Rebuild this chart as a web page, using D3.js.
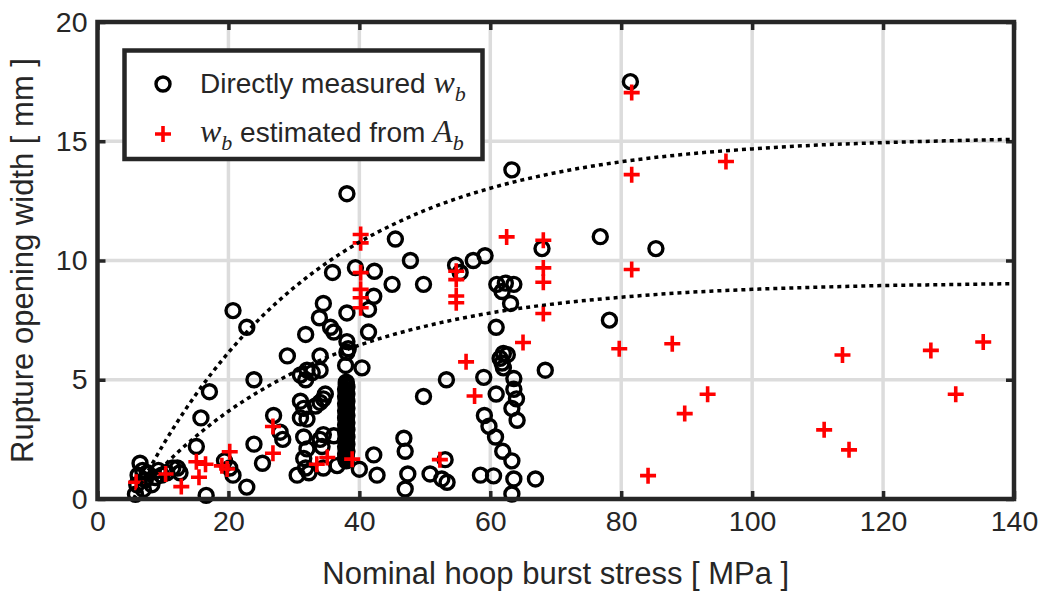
<!DOCTYPE html>
<html>
<head>
<meta charset="utf-8">
<script src="https://cdn.jsdelivr.net/npm/d3@7"></script>
<style>
  body { margin: 0; background: #fff; }
  text { font-family: "Liberation Sans", Arial, sans-serif; fill: #262626; }
</style>
</head>
<body>
<svg width="1045" height="593"></svg>
<script>
// tick values
const xTicks = [0, 20, 40, 60, 80, 100, 120, 140];
const yTicks = [0, 5, 10, 15, 20];

// directly measured w_b  [stress MPa, width mm]
const measuredPoints = [
  [5.8, 0.2], [6.0, 0.6], [6.2, 1.0], [6.5, 1.5], [6.9, 1.2], [7.3, 0.8], [7.6, 1.1], [8.3, 0.6],
  [8.8, 0.9], [9.3, 1.2], [9.8, 1.0], [10.6, 1.1], [11.5, 1.3], [12.2, 1.3], [12.6, 1.1], [7.0, 0.4],
  [15.1, 2.2], [15.8, 3.4], [17.1, 4.5], [16.6, 0.15], [19.4, 1.6], [20.2, 1.3], [20.7, 1.0],
  [20.7, 7.9], [22.8, 7.2], [23.9, 5.0], [23.9, 2.3], [22.8, 0.5], [25.2, 1.5],
  [26.9, 3.5], [27.9, 2.8], [28.3, 2.5], [29.0, 6.0], [31.0, 5.2], [31.8, 5.0], [31.8, 6.9],
  [32.0, 5.4], [32.8, 5.3], [34.0, 5.4], [34.0, 6.0], [34.5, 8.2], [33.9, 7.6], [35.6, 7.2],
  [36.1, 7.0], [35.9, 9.5], [34.8, 4.4], [34.5, 4.2], [34.0, 4.05], [33.3, 3.9], [31.0, 4.1],
  [31.5, 3.8], [31.0, 3.4], [32.0, 3.35], [31.5, 2.6], [32.0, 2.1], [31.5, 1.7], [31.8, 1.3],
  [30.5, 1.0], [32.3, 1.1], [34.5, 2.7], [34.0, 2.5], [36.1, 2.65], [34.3, 2.2], [34.5, 1.3], [36.6, 1.4],
  [38.1, 12.8], [38.1, 7.8], [38.1, 6.6], [38.1, 6.15], [37.9, 5.6], [38.3, 6.3],
  [38.0, 1.6], [37.9, 1.7], [38.0, 1.8], [37.9, 1.9], [38.1, 2.0], [38.0, 2.1], [37.9, 2.2],
  [38.1, 2.3], [38.0, 2.4], [37.9, 2.5], [38.1, 2.6], [38.0, 2.7], [37.9, 2.8], [38.1, 2.9],
  [38.0, 3.0], [37.9, 3.1], [38.1, 3.2], [38.0, 3.3], [37.9, 3.4], [38.1, 3.5], [38.0, 3.6],
  [37.9, 3.7], [38.1, 3.8], [38.0, 3.9], [37.9, 4.0], [38.1, 4.1], [38.0, 4.2], [37.9, 4.3],
  [38.1, 4.4], [38.0, 4.5], [37.9, 4.6], [38.1, 4.7], [38.0, 4.8], [38.0, 4.9],
  [40.4, 5.5], [41.4, 7.0], [41.4, 7.95], [42.2, 8.5], [42.3, 9.55], [39.4, 9.7], [45.0, 9.0],
  [45.5, 10.9], [42.2, 1.85], [40.0, 1.25], [42.7, 1.0], [46.8, 2.55], [47.0, 2.0], [47.4, 1.05], [47.0, 0.42],
  [47.8, 10.0], [49.8, 9.0], [54.7, 9.8], [55.4, 9.5], [57.4, 10.0], [59.2, 10.2], [63.3, 13.8],
  [67.9, 10.5], [61.0, 9.0], [62.3, 9.05], [63.6, 9.0], [61.8, 8.7], [63.1, 8.2], [60.9, 7.2],
  [62.0, 6.1], [62.6, 6.05], [61.5, 5.9], [61.8, 5.7], [62.0, 5.5], [68.4, 5.4], [59.0, 5.1],
  [63.6, 5.05], [53.3, 5.0], [49.8, 4.3], [60.9, 4.4], [63.6, 4.6], [64.0, 4.2], [63.3, 3.8],
  [64.1, 3.3], [59.1, 3.5], [59.8, 3.05], [60.8, 2.6], [61.9, 2.0], [63.3, 1.6], [63.6, 0.84],
  [63.3, 0.21], [66.9, 0.84], [58.5, 1.0], [60.5, 0.97], [50.8, 1.05], [52.6, 0.84], [53.4, 0.7], [53.1, 1.65],
  [81.4, 17.5], [76.8, 11.0], [85.3, 10.5], [78.2, 7.5]
];

// w_b estimated from A_b
const estimatedPoints = [
  [5.9, 0.7], [10.4, 1.05], [12.8, 0.52], [15.1, 1.56], [16.5, 1.46], [15.5, 0.91], [20.2, 1.98],
  [19.0, 1.39], [19.8, 1.26], [26.8, 3.04], [26.8, 1.92], [33.5, 1.46], [35.1, 1.74], [38.9, 1.67],
  [40.2, 11.09], [40.2, 10.74], [40.2, 9.49], [40.2, 8.79], [40.2, 8.44], [40.2, 8.02],
  [54.8, 9.55], [54.8, 9.2], [54.8, 8.51], [54.8, 8.23], [52.3, 1.65], [56.3, 5.75], [57.6, 4.32],
  [62.5, 10.99], [68.1, 10.85], [68.1, 9.69], [68.1, 9.09], [68.1, 7.78], [65.0, 6.56],
  [81.6, 17.04], [81.6, 13.6], [81.6, 9.62], [96.0, 14.15], [79.7, 6.3], [87.8, 6.51],
  [93.2, 4.39], [89.7, 3.58], [84.1, 0.98],
  [113.8, 6.04], [111.0, 2.9], [114.8, 2.06], [127.3, 6.23], [135.3, 6.58], [131.1, 4.39]
];

// dotted envelope curves
const curveX = [5.5, 8, 10, 12, 15, 20, 25, 30, 35, 40, 45, 50, 60, 70, 80, 90, 100, 110, 120, 130, 140];
const upperCurveY = [0, 1.30, 2.26, 3.15, 4.37, 6.14, 7.62, 8.86, 9.90, 10.77, 11.49, 12.10, 13.03, 13.68, 14.14, 14.46, 14.68, 14.84, 14.94, 15.02, 15.08];
const lowerCurveY = [0, 0.78, 1.35, 1.89, 2.62, 3.68, 4.56, 5.31, 5.93, 6.45, 6.88, 7.24, 7.80, 8.19, 8.46, 8.66, 8.79, 8.88, 8.95, 8.99, 9.03];

const svg = d3.select("svg");
const x = d3.scaleLinear().domain([0, 140]).range([97.5, 1014]);
const y = d3.scaleLinear().domain([0, 20]).range([499, 22]);
const dark = "#262626";

// grid
svg.append("g").selectAll("line")
  .data(xTicks.slice(1, -1)).enter().append("line")
  .attr("x1", d => x(d)).attr("x2", d => x(d))
  .attr("y1", y(0)).attr("y2", y(20))
  .attr("stroke", "#dcdcdc").attr("stroke-width", 3.5);
svg.append("g").selectAll("line")
  .data(yTicks.slice(1, -1)).enter().append("line")
  .attr("x1", x(0)).attr("x2", x(140))
  .attr("y1", d => y(d)).attr("y2", d => y(d))
  .attr("stroke", "#dcdcdc").attr("stroke-width", 3.5);

// axes (ticks pointing inward on all four sides)
function styleAxis(g) {
  g.select(".domain").remove();
  g.selectAll(".tick line").attr("stroke", dark).attr("stroke-width", 3.5);
  g.selectAll(".tick text").style("font-size", "28.5px").attr("fill", dark);
}
svg.append("g").attr("transform", `translate(0,${y(0)})`)
  .call(d3.axisBottom(x).tickValues(xTicks).tickSize(-8).tickPadding(12))
  .call(styleAxis);
svg.append("g").attr("transform", `translate(0,${y(20)})`)
  .call(d3.axisTop(x).tickValues(xTicks).tickSize(-8).tickFormat(""))
  .call(styleAxis);
svg.append("g").attr("transform", `translate(${x(0)},0)`)
  .call(d3.axisLeft(y).tickValues(yTicks).tickSize(-8).tickPadding(10))
  .call(styleAxis);
svg.append("g").attr("transform", `translate(${x(140)},0)`)
  .call(d3.axisRight(y).tickValues(yTicks).tickSize(-8).tickFormat(""))
  .call(styleAxis);

const plus = "M-8,0H8M0,-8V8";

// measured circles
svg.append("g").selectAll("circle")
  .data(measuredPoints).enter().append("circle")
  .attr("cx", d => x(d[0])).attr("cy", d => y(d[1]))
  .attr("r", 7)
  .attr("fill", "none").attr("stroke", "#000").attr("stroke-width", 3.4);

// estimated plus markers
svg.append("g").selectAll("path")
  .data(estimatedPoints).enter().append("path")
  .attr("transform", d => `translate(${x(d[0])},${y(d[1])})`)
  .attr("d", plus)
  .attr("stroke", "#ff0000").attr("stroke-width", 3.6).attr("fill", "none");

// dotted curves
const line = d3.line().x(d => x(d[0])).y(d => y(d[1])).curve(d3.curveMonotoneX);
[upperCurveY, lowerCurveY].forEach(ys => {
  svg.append("path")
    .datum(curveX.map((cx, i) => [cx, ys[i]]))
    .attr("d", line)
    .attr("fill", "none").attr("stroke", "#000")
    .attr("stroke-width", 3.5).attr("stroke-dasharray", "4,4");
});

// frame
svg.append("rect")
  .attr("x", x(0)).attr("y", y(20))
  .attr("width", x(140) - x(0)).attr("height", y(0) - y(20))
  .attr("fill", "none").attr("stroke", dark).attr("stroke-width", 4.5);

// axis labels
svg.append("text")
  .attr("x", (x(0) + x(140)) / 2).attr("y", 584)
  .attr("text-anchor", "middle")
  .style("font-size", "31px")
  .text("Nominal hoop burst stress [ MPa ]");
svg.append("text")
  .attr("transform", `translate(33,${(y(0) + y(20)) / 2}) rotate(-90)`)
  .attr("text-anchor", "middle")
  .style("font-size", "31px")
  .text("Rupture opening width [ mm ]");

// legend
const legend = svg.append("g");
legend.append("rect")
  .attr("x", 124.5).attr("y", 50.5).attr("width", 358).attr("height", 108.5)
  .attr("fill", "#fff").attr("stroke", dark).attr("stroke-width", 4.5);
legend.append("circle")
  .attr("cx", 163).attr("cy", 84).attr("r", 7)
  .attr("fill", "none").attr("stroke", "#000").attr("stroke-width", 3.4);
legend.append("path")
  .attr("transform", "translate(163,134)")
  .attr("d", plus)
  .attr("stroke", "#ff0000").attr("stroke-width", 3.6);

const serif = "'Liberation Serif', 'Times New Roman', serif";
const row1 = legend.append("text").attr("x", 200).attr("y", 93).style("font-size", "28px").attr("fill", "#000");
row1.append("tspan").text("Directly measured ");
row1.append("tspan").style("font-family", serif).style("font-style", "italic").style("font-size", "32px").text("w");
row1.append("tspan").attr("dy", 8).style("font-family", serif).style("font-style", "italic").style("font-size", "22px").text("b");

const row2 = legend.append("text").attr("x", 200).attr("y", 142).style("font-size", "28px").attr("fill", "#000");
row2.append("tspan").style("font-family", serif).style("font-style", "italic").style("font-size", "32px").text("w");
row2.append("tspan").attr("dy", 8).style("font-family", serif).style("font-style", "italic").style("font-size", "22px").text("b");
row2.append("tspan").attr("dy", -8).text(" estimated from ");
row2.append("tspan").style("font-family", serif).style("font-style", "italic").style("font-size", "32px").text("A");
row2.append("tspan").attr("dy", 8).style("font-family", serif).style("font-style", "italic").style("font-size", "22px").text("b");
</script>
</body>
</html>
